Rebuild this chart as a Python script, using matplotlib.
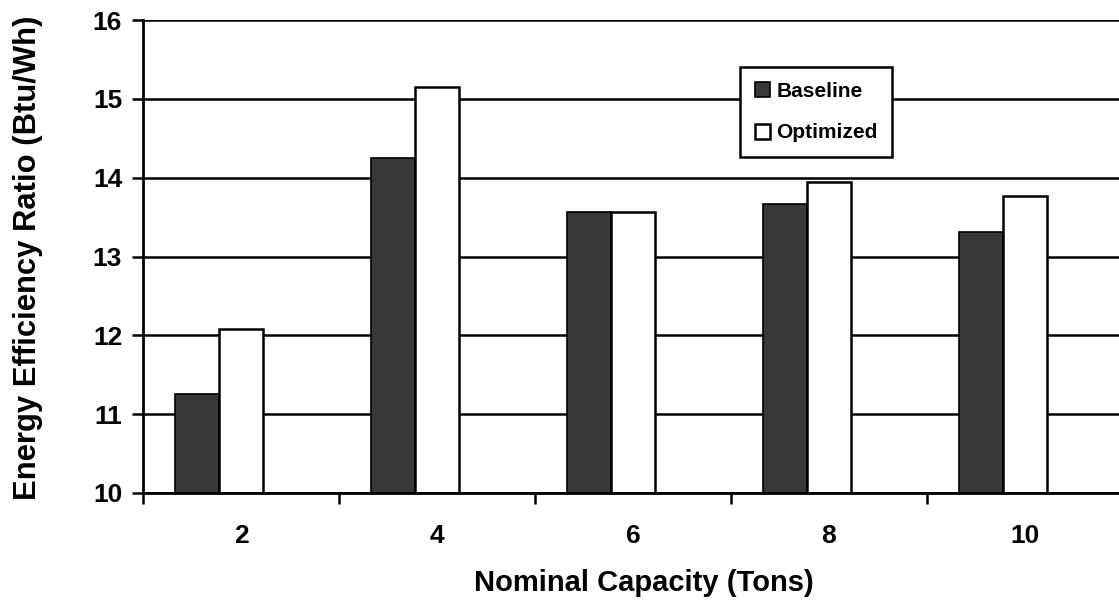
import matplotlib
matplotlib.use("Agg")
import matplotlib.pyplot as plt
import numpy as np

capacity = ["2", "4", "6", "8", "10"]
baseline = [11.25, 14.25, 13.57, 13.66, 13.31]
optimized = [12.08, 15.15, 13.57, 13.94, 13.77]

plt.rcParams["font.family"] = ["Liberation Sans", "DejaVu Sans"]
plt.rcParams["font.weight"] = "bold"

fig = plt.figure(figsize=(11.19, 6.0), dpi=100)
ax = fig.add_axes([143 / 1119, 107 / 600, 980 / 1119, 473 / 600])

x = np.arange(len(capacity))
w = 0.225

ax.set_axisbelow(True)
ax.yaxis.grid(True, color="black", linewidth=1.8)

ax.bar(x - w, [b - 10 for b in baseline], w, bottom=10, color="#383838",
       edgecolor="black", linewidth=1.2, label="Baseline")
ax.bar(x, [o - 10 for o in optimized], w, bottom=10, color="white",
       edgecolor="black", linewidth=1.8, label="Optimized")

ax.set_xlim(-0.5, len(capacity) - 0.5)
ax.set_ylim(10, 16)
ax.set_yticks(range(10, 17))

ax.set_xticks(np.arange(-0.5, len(capacity)), [])
ax.set_xticks(x, capacity, minor=True)
ax.tick_params(axis="x", which="major", direction="out", length=8, width=1.8)
ax.tick_params(axis="x", which="minor", length=0, pad=22, labelsize=19)
ax.tick_params(axis="y", direction="out", length=8, width=1.8, labelsize=19, pad=7)

for side in ["top", "right"]:
    ax.spines[side].set_visible(False)
for side in ["left", "bottom"]:
    ax.spines[side].set_linewidth(2)

ax.set_xlabel("Nominal Capacity (Tons)", fontsize=21, fontweight="bold", va="center")
ax.xaxis.set_label_coords((644 - 143) / 980, -(583 - 493) / 473)
ax.set_ylabel("Energy Efficiency Ratio (Btu/Wh)", fontsize=22.3, fontweight="bold", va="center")
ax.yaxis.set_label_coords(-(143 - 28) / 980, (493 - 258) / 473)

leg = ax.legend(loc="upper left", bbox_to_anchor=(740 / 1119, 1 - 67 / 600),
                bbox_transform=fig.transFigure, fancybox=False, framealpha=1,
                edgecolor="black", fontsize=15, handlelength=0.75, handleheight=0.75,
                handletextpad=0.3, labelspacing=1.1, borderpad=0.7, borderaxespad=0)
leg.get_frame().set_linewidth(1.8)
for t in leg.get_texts():
    t.set_fontweight("bold")

fig.savefig("out.png", dpi=100)
